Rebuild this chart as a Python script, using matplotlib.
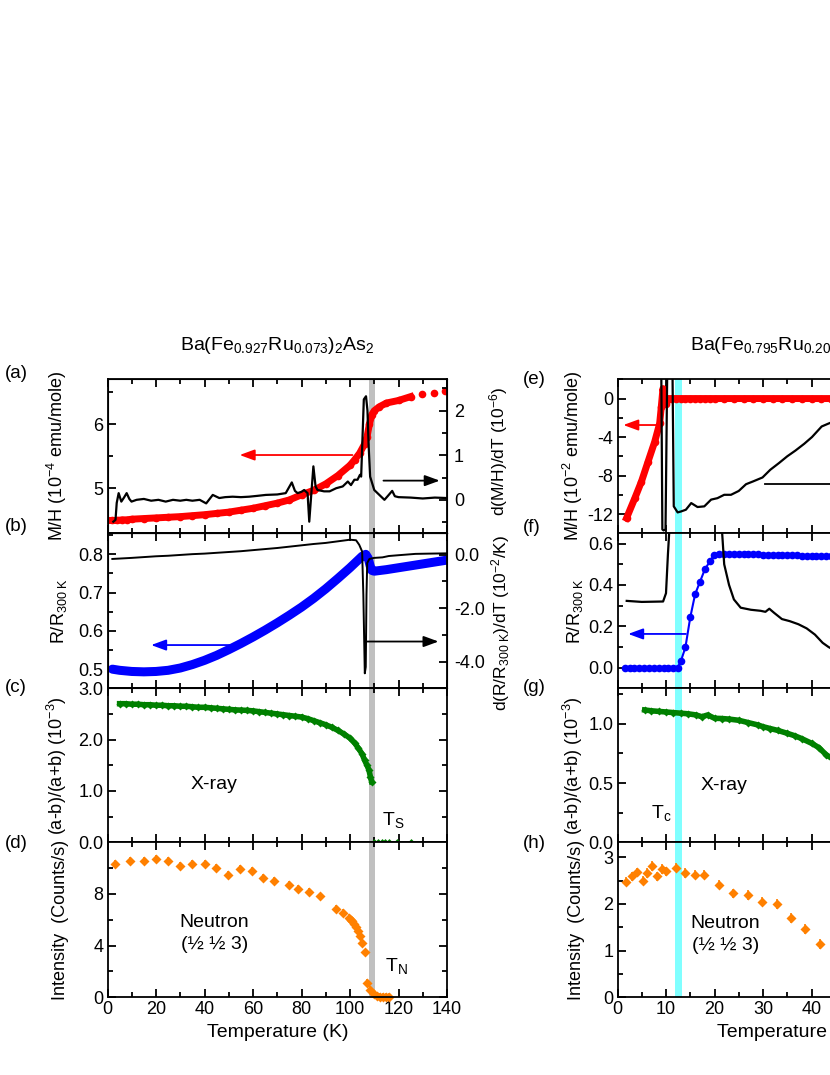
import numpy as np
import matplotlib
matplotlib.use('Agg')
import matplotlib.pyplot as plt
from matplotlib.ticker import MultipleLocator, FixedLocator

plt.rcParams['font.family'] = ['Liberation Sans', 'DejaVu Sans']
plt.rcParams['mathtext.fontset'] = 'custom'
plt.rcParams['mathtext.rm'] = 'Liberation Sans'
plt.rcParams['mathtext.it'] = 'Liberation Sans:italic'
plt.rcParams['axes.unicode_minus'] = False

# ---------------- data: x = 0.073 (left column) ----------------
# (a) M/H, 10^-4 emu/mole
T_mh = [2, 4, 6, 8, 10, 15, 20, 25, 30, 35, 40, 45, 50, 55, 60, 65, 70, 75,
        80, 85, 90, 95, 100, 102, 104, 106, 107, 108, 109, 110, 112, 115,
        120, 125]
mh = [4.50, 4.50, 4.51, 4.51, 4.52, 4.53, 4.54, 4.55, 4.56, 4.575, 4.59,
      4.61, 4.63, 4.66, 4.69, 4.73, 4.77, 4.82, 4.90, 4.97, 5.07, 5.20, 5.36,
      5.45, 5.55, 5.69, 5.80, 6.00, 6.15, 6.21, 6.27, 6.33, 6.37, 6.43]
T_mh_sparse = [129.8, 134.5, 139]
mh_sparse = [6.47, 6.49, 6.51]
# (a) d(M/H)/dT, 10^-6
T_dmh = [2.4, 3.3, 3.8, 4.6, 5.7, 6.8, 7.9, 9.0, 9.9, 12, 15, 18, 21, 24, 27,
         30, 32.5, 35, 38, 40.7, 43.4, 46.1, 48.5, 51.6, 55, 58.4, 62, 65.3,
         70, 73.5, 76.0, 77.3, 78.4, 80, 81.1, 82.5, 83.2, 84.0, 84.9, 85.8,
         86.6, 89.3, 91.6, 94.3, 97, 99.1, 100.4, 101.8, 103.1, 104.1, 104.6,
         105.7, 106.6, 107.2, 107.7, 108.3, 110, 112.1, 114.2, 115.5, 117.4,
         118.5, 120, 125, 130, 135, 140]
dmh = [-0.49, -0.45, -0.07, 0.15, -0.04, 0.05, 0.15, 0.02, -0.04, 0.0, 0.02,
       -0.02, 0.0, -0.04, 0.0, -0.02, 0.0, -0.02, 0.0, -0.08, 0.11, 0.04,
       0.06, 0.07, 0.06, 0.07, 0.09, 0.11, 0.12, 0.15, 0.39, 0.2, 0.15, 0.18,
       0.22, 0.15, -0.49, 0.1, 0.75, 0.3, 0.22, 0.19, 0.19, 0.26, 0.30, 0.41,
       0.33, 0.45, 0.45, 0.56, 0.52, 2.25, 2.32, 2.0, 1.2, 0.52, 0.22, 0.11,
       0.0, 0.08, 0.2, 0.08, 0.06, 0.05, 0.03, 0.05, 0.04]

# (b) R/R300K
T_r = [2, 5, 10, 15, 20, 25, 30, 35, 40, 45, 50, 55, 60, 65, 70, 75, 80, 85,
       90, 95, 100, 103, 105, 106.5, 107.5, 108.3, 109, 110, 115, 120, 125,
       130, 135, 140]
rr = [0.500, 0.497, 0.494, 0.493, 0.494, 0.497, 0.503, 0.512, 0.523, 0.536,
      0.551, 0.567, 0.584, 0.602, 0.621, 0.641, 0.662, 0.685, 0.710, 0.737,
      0.765, 0.783, 0.795, 0.800, 0.790, 0.770, 0.758, 0.756, 0.760, 0.765,
      0.770, 0.775, 0.780, 0.785]
# (b) d(R/R300K)/dT, 10^-2/K
T_dr = [2, 6, 10, 15, 20, 25, 30, 35, 40, 45, 50, 55, 60, 65, 70, 75, 80, 85,
        90, 95, 100, 102.5, 103.8, 105, 105.5, 106.1, 106.5, 106.8, 107.1,
        108, 110, 113.4, 116, 120, 127, 133, 140]
dr = [-0.16, -0.14, -0.12, -0.09, -0.06, -0.04, -0.01, 0.02, 0.04, 0.07,
      0.10, 0.13, 0.17, 0.21, 0.25, 0.30, 0.35, 0.40, 0.44, 0.50, 0.56, 0.54,
      0.37, 0.12, -1.5, -4.44, -4.2, -1.5, -0.31, -0.16, -0.12, -0.10, -0.05,
      -0.02, 0.03, 0.04, 0.05]

# (c) orthorhombicity, 10^-3
T_orth = [5, 7.5, 10, 12.5, 15, 17.5, 20, 22.5, 25, 27.5, 30, 32.5, 35, 37.5,
          40, 42.5, 45, 47.5, 50, 52.5, 55, 57.5, 60, 62.5, 65, 67.5, 70,
          72.5, 75, 77.5, 80, 82.5, 85, 87.5, 90, 92.5, 95, 97.5, 100, 102,
          103.5, 105, 106, 107, 107.8, 108.4, 108.9]
orth = [2.70, 2.70, 2.69, 2.69, 2.68, 2.68, 2.67, 2.67, 2.66, 2.66, 2.65,
        2.65, 2.64, 2.63, 2.63, 2.62, 2.61, 2.60, 2.59, 2.58, 2.575, 2.57,
        2.56, 2.545, 2.53, 2.515, 2.50, 2.485, 2.47, 2.455, 2.44, 2.41, 2.37,
        2.33, 2.29, 2.24, 2.18, 2.11, 2.03, 1.93, 1.83, 1.72, 1.60, 1.50,
        1.41, 1.28, 1.18]
T_orth0 = [110, 111.5, 113, 114.5, 116, 119.5, 125]
orth0 = [0, 0, 0, 0, 0, 0, 0]

# (d) neutron intensity, counts/s
T_n = [3.1, 9.2, 15, 20, 25, 30, 35, 40, 44.8, 49.8, 54.5, 59.5, 64, 68.8,
       74.7, 78.4, 83.2, 87.6, 94.4, 97.3, 99.4, 100.3, 101, 101.7, 102.3,
       103.4, 104.3, 105, 106.1, 107.1, 108.4, 109.7, 111, 112.3, 113.5,
       114.8, 116]
inten = [10.35, 10.53, 10.59, 10.72, 10.59, 10.15, 10.33, 10.33, 10.02, 9.45,
         9.94, 9.76, 9.24, 9.03, 8.70, 8.39, 8.13, 7.81, 6.83, 6.52, 6.14,
         6.00, 5.87, 5.70, 5.48, 5.10, 4.71, 4.24, 3.47, 1.13, 0.57, 0.26,
         0.12, 0.05, 0.02, 0.0, 0.0]

# ---------------- data: x = 0.205 (right column) ----------------
# (e) M/H, 10^-2 emu/mole
T_mh2 = [1.87, 3.58, 4.94, 6.3, 7.67, 8.69, 9.03, 9.37, 9.7, 10.05, 10.4, 11,
         12, 13, 14, 15, 16, 17, 18, 19, 20, 22, 24, 26, 28, 30, 32, 34, 36,
         38, 40, 42, 44, 46]
mh2 = [-12.41, -10.34, -8.62, -6.55, -4.49, -2.59, -0.86, 1.03, 0.0, -0.6,
       0.0, 0, 0, 0, 0, 0, 0, 0, 0, 0, 0, 0, 0, 0, 0, 0, 0, 0, 0, 0, 0, 0, 0,
       0]
# (e) derivative, drawn in the M/H scale
T_dmh2 = [9.0, 9.25, 9.5, 9.9, 10.3, 11.3, 11.6, 12.4, 13.1, 14.1, 15.2, 16.5,
          17.9, 19.3, 20.6, 22, 23.4, 25, 26.5, 28, 29.9, 31.5, 33.3, 35,
          36.7, 38.5, 40.1, 42.1, 43.5, 45]
dmh2 = [5, -13.6, -13.7, -13.6, 5, 5, -11.2, -11.83, -11.73, -11.55, -10.86,
        -11.27, -11.2, -10.5, -10.35, -10.0, -10.0, -9.6, -8.9, -8.6, -8.2,
        -7.4, -6.7, -6.0, -5.4, -4.7, -4.0, -2.9, -2.6, -2.3]

# (f) R/R300K
T_r2 = [1.5, 2.5, 3.5, 4.5, 5.5, 6.5, 7.5, 8.5, 9.5, 10.5, 11.5, 12.4, 13.1,
        14.0, 15.0, 16.0, 17.0, 18.0, 19.1, 19.9, 21, 22, 23, 24, 25, 26, 27,
        28, 29, 30, 31, 32, 33, 34, 35, 36, 37, 38, 39, 40, 41, 42, 43, 44, 45]
rr2 = [0, 0, 0, 0, 0, 0, 0, 0, 0, 0, 0, 0.0, 0.034, 0.098, 0.243, 0.355,
       0.415, 0.475, 0.516, 0.544, 0.550, 0.551, 0.551, 0.550, 0.550, 0.549,
       0.549, 0.548, 0.548, 0.547, 0.547, 0.546, 0.545, 0.545, 0.544, 0.543,
       0.543, 0.542, 0.541, 0.541, 0.540, 0.540, 0.539, 0.539, 0.538]
# (f) derivative, drawn in the R/R300K scale
T_dr2 = [1.9, 5, 9.4, 10.0, 10.4, 10.9, 21.3, 22.0, 23.0, 24.0, 25.4, 27.5,
         29.5, 30.5, 31.3, 32.3, 33.9, 35.5, 37.3, 39.0, 40.7, 42.3, 43.5, 45]
dr2 = [0.323, 0.318, 0.32, 0.36, 0.55, 0.75, 0.75, 0.50, 0.40, 0.33, 0.29,
       0.28, 0.275, 0.27, 0.285, 0.265, 0.235, 0.225, 0.21, 0.19, 0.16,
       0.12, 0.10, 0.08]

# (g) orthorhombicity, 10^-3
T_orth2 = [5.6, 7, 8.5, 10, 11.5, 13, 14.5, 16.2, 17.4, 18.6, 20, 21.5, 23,
           25, 27, 29, 30, 31.5, 33, 35, 36.5, 38, 40, 41.5, 43, 44.5]
orth2 = [1.117, 1.11, 1.105, 1.10, 1.095, 1.09, 1.085, 1.075, 1.06, 1.075,
         1.047, 1.045, 1.04, 1.03, 1.01, 0.99, 0.976, 0.96, 0.945, 0.92, 0.90,
         0.875, 0.836, 0.80, 0.74, 0.70]

# (h) neutron intensity, counts/s
T_n2 = [1.7, 3.0, 4.05, 5.2, 6.1, 7.1, 8.1, 9.2, 10.1, 12.0, 14.0, 16.0, 17.9,
        21.0, 23.9, 26.9, 29.8, 32.9, 35.8, 38.7, 41.8]
inten2 = [2.48, 2.59, 2.68, 2.50, 2.66, 2.81, 2.59, 2.75, 2.70, 2.78, 2.66,
          2.63, 2.63, 2.41, 2.23, 2.19, 2.05, 2.00, 1.70, 1.46, 1.14]

RED, BLUE, GREEN, ORANGE = '#ff0000', '#0000ff', '#008000', '#ff8000'
W, H = 830, 1075
TICK_FS = 13
fig = plt.figure(figsize=(W / 100, H / 100), dpi=100)

rows = [379.3, 533.3, 688.3, 842.3, 997.3]
cols = [(107.5, 447.0), (617.5, 957.0)]


def px_axes(x0, x1, y0, y1):
    return fig.add_axes([x0 / W, 1 - y1 / H, (x1 - x0) / W, (y1 - y0) / H])


def style(ax, xmaj, xmin, right=True):
    ax.tick_params(which='both', direction='in', top=True, right=right,
                   width=1.3, labelsize=TICK_FS, pad=3)
    ax.tick_params(which='major', length=6)
    ax.tick_params(which='minor', length=3.5)
    ax.xaxis.set_major_locator(MultipleLocator(xmaj))
    ax.xaxis.set_minor_locator(MultipleLocator(xmin))
    for s in ax.spines.values():
        s.set_linewidth(1.3)


def style_twin(tw):
    tw.tick_params(which='both', direction='in', width=1.3,
                   labelsize=TICK_FS, pad=5)
    tw.tick_params(which='major', length=6)
    tw.tick_params(which='minor', length=3.5)


def arrow(ax, x0, x1, y, color):
    ax.annotate('', xy=(x1, y), xytext=(x0, y),
                arrowprops=dict(arrowstyle='-|>,head_length=0.6,head_width=0.22',
                                color=color, lw=1.3, mutation_scale=15,
                                shrinkA=0, shrinkB=0))


left = [px_axes(cols[0][0], cols[0][1], rows[i], rows[i + 1]) for i in range(4)]
right = [px_axes(cols[1][0], cols[1][1], rows[i], rows[i + 1]) for i in range(4)]

for ax in left:
    ax.set_xlim(0, 140)
    ax.axvspan(107.8, 110.3, color='#c0c0c0', lw=0, zorder=0)
for ax in right:
    ax.set_xlim(0, 70)
    ax.axvspan(11.9, 13.2, color='#80ffff', lw=0, zorder=0)

# (a)
ax = left[0]
style(ax, 20, 10, right=False)
ax.plot(T_mh, mh, '-o', color=RED, lw=5, ms=5.5, mec='none')
ax.plot(T_mh_sparse, mh_sparse, 'o', color=RED, ms=5.5, mec='none')
ax.set_ylim(4.3, 6.7)
ax.set_yticks([5, 6])
ax.yaxis.set_minor_locator(FixedLocator([4.5, 5.5, 6.5]))
ax.set_ylabel('M/H (10$^{-4}$ emu/mole)', fontsize=13)
arrow(ax, 101, 54.5, 5.52, RED)
tw = ax.twinx()
tw.plot(T_dmh, dmh, '-', color='black', lw=1.6)
tw.set_ylim(-0.75, 2.7)
tw.set_yticks([0, 1, 2])
tw.yaxis.set_minor_locator(FixedLocator([-0.5, 0.5, 1.5, 2.5]))
style_twin(tw)
tw.set_ylabel('d(M/H)/dT (10$^{-6}$)', fontsize=12.5)
tw.yaxis.set_label_coords(1.118, 0.53)
arrow(tw, 113.8, 137, 0.43, 'black')

# (b)
ax = left[1]
style(ax, 20, 10, right=False)
ax.plot(T_r, rr, '-', color=BLUE, lw=6.5, solid_capstyle='round')
ax.set_ylim(0.45, 0.855)
ax.set_yticks([0.5, 0.6, 0.7, 0.8])
ax.yaxis.set_minor_locator(MultipleLocator(0.05))
ax.set_ylabel('R/R$_{\\mathrm{300\\ K}}$', fontsize=13)
arrow(ax, 53, 18, 0.563, BLUE)
tw = ax.twinx()
tw.plot(T_dr, dr, '-', color='black', lw=1.4)
tw.set_ylim(-5.0, 0.8)
tw.set_yticks([-4, -2, 0])
tw.set_yticklabels(['-4.0', '-2.0', '0.0'])
tw.yaxis.set_minor_locator(MultipleLocator(1))
style_twin(tw)
tw.set_ylabel('d(R/R$_{\\mathrm{300\\ K}}$)/dT (10$^{-2}$/K)', fontsize=12.5)
tw.yaxis.set_label_coords(1.125, 0.42)
arrow(tw, 106.5, 136.5, -3.25, 'black')

# (c)
ax = left[2]
style(ax, 20, 10)
ax.errorbar(T_orth, orth, yerr=0.05, fmt='-D', color=GREEN, lw=4, ms=4.5,
            mec='none', elinewidth=1.2, capsize=0)
ax.errorbar(T_orth0, orth0, yerr=0.03, fmt='D', color=GREEN, ms=3.5,
            mec='none', elinewidth=1, capsize=0)
ax.set_ylim(0, 3.0)
ax.set_yticks([0, 1, 2, 3])
ax.set_yticklabels(['0.0', '1.0', '2.0', '3.0'])
ax.yaxis.set_minor_locator(MultipleLocator(0.5))
ax.set_ylabel('(a-b)/(a+b) (10$^{-3}$)', fontsize=13)
ax.text(44, 1.12, 'X-ray', fontsize=14, ha='center', va='center')
ax.text(113.0, 0.43, 'T$_\\mathrm{S}$', fontsize=14, ha='left', va='center')

# (d)
ax = left[3]
style(ax, 20, 10)
ax.errorbar(T_n, inten, yerr=0.3, fmt='D', color=ORANGE, ms=5.5, mec='none',
            elinewidth=1.2, capsize=0, clip_on=False)
ax.set_ylim(0, 12)
ax.set_yticks([0, 4, 8])
ax.yaxis.set_minor_locator(FixedLocator([2, 6, 10]))
ax.set_ylabel('Intensity  (Counts/s)', fontsize=13)
ax.set_xlabel('Temperature (K)', fontsize=14, labelpad=4)
ax.text(44, 5.8, 'Neutron', fontsize=14, ha='center', va='center')
ax.text(44, 4.06, '(½ ½ 3)', fontsize=14, ha='center', va='center')
ax.text(114.6, 2.4, 'T$_\\mathrm{N}$', fontsize=14, ha='left', va='center')

# (e)
ax = right[0]
style(ax, 10, 5)
ax.plot(T_mh2, mh2, '-o', color=RED, lw=5, ms=5.5, mec='none')
ax.plot(T_dmh2, dmh2, '-', color='black', lw=1.6)
ax.set_ylim(-14, 2)
ax.set_yticks([-12, -8, -4, 0])
ax.yaxis.set_minor_locator(MultipleLocator(2))
ax.set_ylabel('M/H (10$^{-2}$ emu/mole)', fontsize=13)
arrow(ax, 8.5, 1.2, -2.75, RED)
ax.plot([30.5, 70], [-8.9, -8.9], '-', color='black', lw=1.3)

# (f)
ax = right[1]
style(ax, 10, 5)
ax.plot(T_r2, rr2, '-o', color=BLUE, lw=1.5, ms=5.5, mec='none')
ax.plot(T_dr2, dr2, '-', color='black', lw=1.6)
ax.set_ylim(-0.1, 0.65)
ax.set_yticks([0, 0.2, 0.4, 0.6])
ax.set_yticklabels(['0.0', '0.2', '0.4', '0.6'])
ax.yaxis.set_minor_locator(MultipleLocator(0.1))
ax.set_ylabel('R/R$_{\\mathrm{300\\ K}}$', fontsize=13)
arrow(ax, 14.1, 2.2, 0.163, BLUE)

# (g)
ax = right[2]
style(ax, 10, 5)
ax.errorbar(T_orth2, orth2, yerr=0.02, fmt='-D', color=GREEN, lw=4, ms=4.5,
            mec='none', elinewidth=1.2, capsize=0)
ax.set_ylim(0, 1.3)
ax.set_yticks([0, 0.5, 1.0])
ax.set_yticklabels(['0.0', '0.5', '1.0'])
ax.yaxis.set_minor_locator(MultipleLocator(0.25))
ax.set_ylabel('(a-b)/(a+b) (10$^{-3}$)', fontsize=13)
ax.text(22, 0.48, 'X-ray', fontsize=14, ha='center', va='center')
ax.text(7.0, 0.245, 'T$_\\mathrm{c}$', fontsize=14, ha='left', va='center')

# (h)
ax = right[3]
style(ax, 10, 5)
ax.errorbar(T_n2, inten2, yerr=0.1, fmt='D', color=ORANGE, ms=5.5, mec='none',
            elinewidth=1.2, capsize=0)
ax.set_ylim(0, 3.32)
ax.set_yticks([0, 1, 2, 3])
ax.yaxis.set_minor_locator(MultipleLocator(0.5))
ax.set_ylabel('Intensity  (Counts/s)', fontsize=13)
ax.set_xlabel('Temperature (K)', fontsize=14, labelpad=4)
ax.text(22.2, 1.59, 'Neutron', fontsize=14, ha='center', va='center')
ax.text(22.2, 1.1, '(½ ½ 3)', fontsize=14, ha='center', va='center')

for col, xl in ((left, -0.113), (right, -0.097)):
    for i, ax in enumerate(col):
        ax.yaxis.set_label_coords(xl, 0.5)
        if i < 3:
            ax.tick_params(labelbottom=False)

# titles and panel letters
fig.text(277 / W, 1 - 345 / H, 'Ba(Fe$_{0.927}$Ru$_{0.073}$)$_2$As$_2$',
         fontsize=14, ha='center', va='center')
fig.text(787 / W, 1 - 345 / H, 'Ba(Fe$_{0.795}$Ru$_{0.205}$)$_2$As$_2$',
         fontsize=14, ha='center', va='center')
for lab, x, y in (('(a)', 5, 373), ('(b)', 5, 527), ('(c)', 5, 688),
                  ('(d)', 5, 843), ('(e)', 523, 380), ('(f)', 523, 528),
                  ('(g)', 523, 688), ('(h)', 523, 844)):
    fig.text(x / W, 1 - y / H, lab, fontsize=13.5, ha='left', va='center')

fig.savefig('out.png', dpi=100)
